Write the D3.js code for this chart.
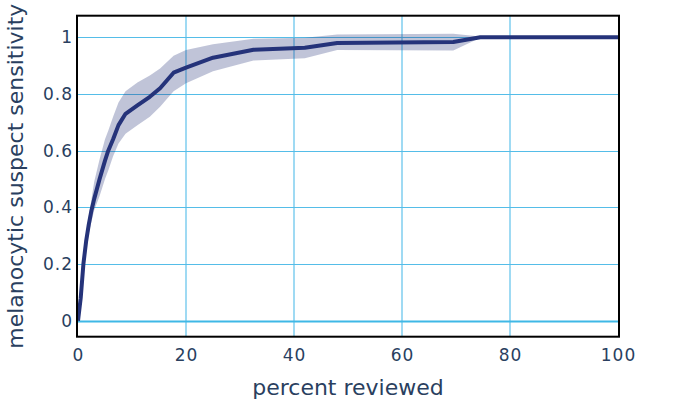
<!DOCTYPE html>
<html>
<head>
<meta charset="utf-8">
<script src="https://cdn.jsdelivr.net/npm/d3@7"></script>
<style>
  body { margin: 0; background: #fff; }
  svg text { font-family: "DejaVu Sans", sans-serif; fill: #2a3f5f; }
</style>
</head>
<body>
<div id="chart"></div>
<script>
// values
var percentReviewed = [0, 0.5, 1, 1.5, 2, 2.5, 3, 4, 5, 5.6, 6.5, 7.5, 8.8, 11, 13.3, 15.2, 17.7, 20, 25, 32.5, 42, 48, 69.5, 74.5, 80, 100];
var sensitivity     = [0, 0.08, 0.2, 0.28, 0.34, 0.39, 0.43, 0.5, 0.565, 0.6, 0.64, 0.69, 0.73, 0.76, 0.79, 0.82, 0.875, 0.893, 0.928, 0.956, 0.963, 0.98, 0.983, 1.0, 1.0, 1.0];
var upperBound      = [0, 0.09, 0.22, 0.31, 0.37, 0.43, 0.49, 0.57, 0.64, 0.67, 0.72, 0.77, 0.81, 0.84, 0.865, 0.89, 0.935, 0.955, 0.975, 0.995, 0.998, 1.01, 1.012, 1.003, 1.0, 1.0];
var lowerBound      = [0, 0.07, 0.18, 0.25, 0.31, 0.35, 0.39, 0.44, 0.5, 0.53, 0.58, 0.625, 0.66, 0.69, 0.72, 0.755, 0.81, 0.838, 0.88, 0.918, 0.926, 0.955, 0.953, 0.998, 1.0, 1.0];
var xTicks = [0, 20, 40, 60, 80, 100];
var yTicks = [0, 0.2, 0.4, 0.6, 0.8, 1];

var width = 697, height = 403;
var plotLeft = 77, plotRight = 619, plotTop = 15.7, plotBottom = 336.7;

var svg = d3.select("#chart").append("svg")
    .attr("width", width)
    .attr("height", height);

var x = d3.scaleLinear().domain([0, 100]).range([78, 618]);
var y = d3.scaleLinear().domain([-0.056, 1.076]).range([plotBottom, plotTop]);

var rows = percentReviewed.map(function(p, i) {
    return { p: p, m: sensitivity[i], hi: upperBound[i], lo: lowerBound[i] };
});

/* grid */
svg.append("g").selectAll("line")
    .data(xTicks.filter(function(t){ return t > 0 && t < 100; }))
    .enter().append("line")
    .attr("x1", function(d){ return x(d); })
    .attr("x2", function(d){ return x(d); })
    .attr("y1", plotTop).attr("y2", plotBottom)
    .attr("stroke", "#9fdaf3")
    .attr("stroke-width", 2);

svg.append("g").selectAll("line")
    .data(yTicks)
    .enter().append("line")
    .attr("x1", plotLeft).attr("x2", plotRight)
    .attr("y1", function(d){ return Math.round(y(d)) + 0.5; })
    .attr("y2", function(d){ return Math.round(y(d)) + 0.5; })
    .attr("stroke", function(d){ return d === 0 ? "#3fb8e6" : "#55bde8"; })
    .attr("stroke-width", function(d){ return d === 0 ? 2 : 1; });

/* band + line */
var area = d3.area()
    .x(function(d){ return x(d.p); })
    .y0(function(d){ return y(d.lo); })
    .y1(function(d){ return y(d.hi); });

svg.append("path")
    .datum(rows)
    .attr("d", area)
    .attr("fill", "#253377")
    .attr("fill-opacity", 0.29);

var line = d3.line()
    .x(function(d){ return x(d.p); })
    .y(function(d){ return y(d.m); });

svg.append("path")
    .datum(rows)
    .attr("d", line)
    .attr("fill", "none")
    .attr("stroke", "#25337a")
    .attr("stroke-width", 4)
    .attr("stroke-linejoin", "round");

/* frame */
svg.append("rect")
    .attr("x", plotLeft).attr("y", plotTop)
    .attr("width", plotRight - plotLeft).attr("height", plotBottom - plotTop)
    .attr("fill", "none")
    .attr("stroke", "#000")
    .attr("stroke-width", 2);

/* axes */
var xAxis = d3.axisBottom(x).tickValues(xTicks).tickSize(0).tickPadding(12);
var gx = svg.append("g")
    .attr("transform", "translate(0," + plotBottom + ")")
    .call(xAxis);
gx.select(".domain").remove();
gx.selectAll("text").style("font-size", "17px").style("letter-spacing", "1px").attr("fill", "#2a3f5f");

var yAxis = d3.axisLeft(y).tickValues(yTicks).tickSize(0).tickPadding(4)
    .tickFormat(function(d){ return d3.format("~g")(d); });
var gy = svg.append("g")
    .attr("transform", "translate(" + plotLeft + ",0)")
    .call(yAxis);
gy.select(".domain").remove();
gy.selectAll("text").style("font-size", "17px").style("letter-spacing", "1px").attr("fill", "#2a3f5f");

/* titles */
svg.append("text")
    .attr("x", (plotLeft + plotRight) / 2)
    .attr("y", 395)
    .attr("text-anchor", "middle")
    .style("font-size", "22px")
    .text("percent reviewed");

svg.append("text")
    .attr("transform", "translate(22.5," + ((plotTop + plotBottom) / 2) + ") rotate(-90)")
    .attr("text-anchor", "middle")
    .style("font-size", "22px")
    .text("melanocytic suspect sensitivity");
</script>
</body>
</html>
